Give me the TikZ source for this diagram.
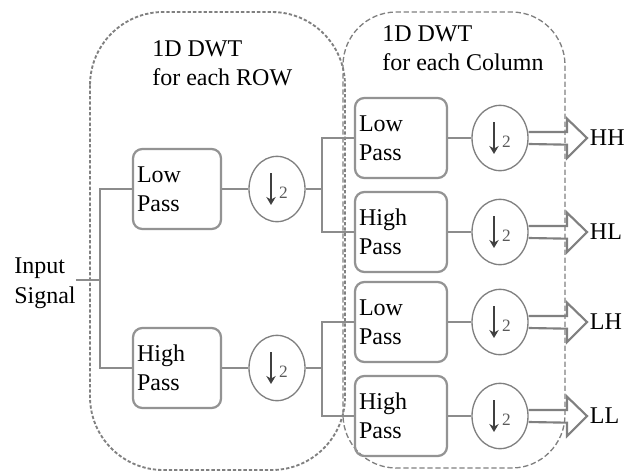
\documentclass[tikz,border=0pt]{standalone}
\usepackage{fontspec}
\setmainfont{Liberation Serif}
\usetikzlibrary{arrows.meta, positioning, shapes.geometric}

% down-sampling symbol
\newcommand{\dnsym}{\tikz[baseline=0pt]{\draw[draw=gray!50!black, line width=1.7pt,
  -{Stealth[length=6pt,width=7pt]}] (0pt,12pt) -- (0pt,-12pt);}%
  \hspace{2.5pt}{\fontsize{13}{13}\selectfont\raisebox{-7pt}{2}}}

\begin{document}
\begin{tikzpicture}[x=0.75pt,y=-0.75pt,
  font=\fontsize{18}{22}\selectfont,
  wire/.style={draw=gray!90, line width=1.4pt},
  filt/.style={draw=gray!85, line width=1.7pt, rounded corners=7pt, text width=60pt,
    minimum height=60pt, inner sep=3pt, align=left},
  down/.style={ellipse, draw=gray, line width=1pt, minimum width=42pt,
    minimum height=49pt, inner sep=0pt, text=gray!70!black},
  outarr/.style={draw=gray, line width=1.6pt, to path={
    ([yshift=4.5pt]\tikztostart) -- ([xshift=-15pt,yshift=4.5pt]\tikztotarget)
    -- ++(0,10pt) -- (\tikztotarget) -- ++(-15pt,-15pt) -- ++(0,10pt)
    -- ([yshift=-4.5pt]\tikztostart)}},
  grp/.style={draw=gray, line width=1.4pt, dash pattern=on 2.5pt off 1.5pt, rounded corners=55pt}]

\useasboundingbox (0,0) rectangle (634,475);

% the two 1D stages
\draw[grp] (90,12) rectangle (345,470);
\draw[grp, line width=1pt, dash pattern=on 4pt off 2pt, rounded corners=40pt] (343,12) rectangle (565,468);
\node[anchor=north west, align=left, inner sep=0pt] (trow) at (152,40) {1D DWT\\for each ROW};
\node[anchor=north west, align=left, inner sep=0pt] (tcol) at (382,25) {1D DWT\\for each Column};

\node[anchor=north west, align=left, inner sep=0pt] (in) at (14,258) {Input\\Signal};

% row filters
\node[filt] (lpr) at (177,189) {Low\\Pass};
\node[filt] (hpr) at (177,368) {High\\Pass};
\node[down] (dr1) at (277,189) {\dnsym};
\node[down] (dr2) at (277,368) {\dnsym};

% column filters
\node[filt, text width=63pt] (lpc1) at (401,138) {Low\\Pass};
\node[filt, text width=63pt] (hpc1) at (401,232) {High\\Pass};
\node[filt, text width=63pt] (lpc2) at (401,322) {Low\\Pass};
\node[filt, text width=63pt] (hpc2) at (401,416) {High\\Pass};
\node[down] (dc1) at (500,138) {\dnsym};
\node[down] (dc2) at (500,232) {\dnsym};
\node[down] (dc3) at (500,322) {\dnsym};
\node[down] (dc4) at (500,416) {\dnsym};

% outputs
\node[anchor=west, inner sep=2pt] (hh) at (587,138) {HH};
\node[anchor=west, inner sep=2pt] (hl) at (587,232) {HL};
\node[anchor=west, inner sep=2pt] (lh) at (587,322) {LH};
\node[anchor=west, inner sep=2pt] (ll) at (587,416) {LL};

\coordinate (sp0) at (100,280);
\coordinate (sp1) at (322,189);
\coordinate (sp2) at (322,368);

\draw[wire] (in.east |- sp0) -- (sp0);
\draw[wire] (lpr.west) -| (sp0) |- (hpr.west);
\draw[wire] (lpr) -- (dr1);
\draw[wire] (hpr) -- (dr2);
\draw[wire] (dr1) -- (sp1);
\draw[wire] (dr2) -- (sp2);
\draw[wire] (lpc1.west) -| (sp1) |- (hpc1.west);
\draw[wire] (lpc2.west) -| (sp2) |- (hpc2.west);
\draw[wire] (lpc1) -- (dc1);
\draw[wire] (hpc1) -- (dc2);
\draw[wire] (lpc2) -- (dc3);
\draw[wire] (hpc2) -- (dc4);

\draw[outarr] (dc1.east) to (hh.west);
\draw[outarr] (dc2.east) to (hl.west);
\draw[outarr] (dc3.east) to (lh.west);
\draw[outarr] (dc4.east) to (ll.west);
\end{tikzpicture}
\end{document}
